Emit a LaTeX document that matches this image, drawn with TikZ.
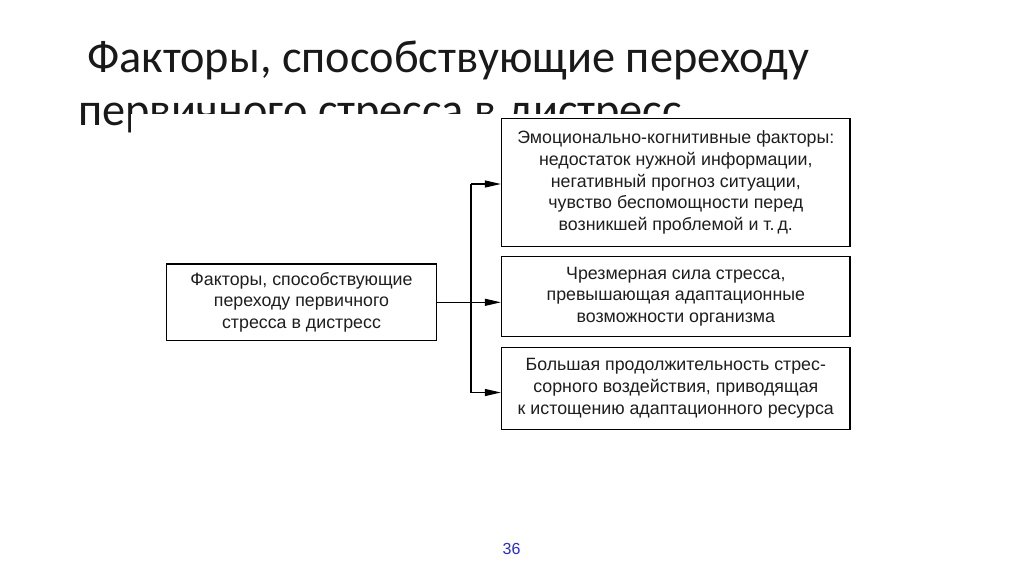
\documentclass[tikz,border=0pt]{standalone}
\usepackage{fontspec}
\setmainfont{Liberation Sans}
\newfontfamily\titlefont{Carlito}
\newfontfamily\boxfont{Liberation Sans}
\usetikzlibrary{arrows.meta,calc}
\definecolor{txtgray}{RGB}{30,30,30}
\definecolor{pagenum}{RGB}{40,40,220}
\begin{document}
\begin{tikzpicture}[x=1pt,y=-1pt,
  titletext/.style={anchor=base west,inner sep=0pt,font=\titlefont\fontsize{46.3}{50}\selectfont,text=black!90},
  factbox/.style={draw=black,line width=1.4pt,fill=white,align=center,inner sep=0pt,
    font=\boxfont\fontsize{17.8}{21.7}\selectfont,text=txtgray},
  conn/.style={line width=1.2pt,draw=black},
  arr/.style={conn,-{Triangle[length=16pt,width=7pt]}}
]
\useasboundingbox (0,0) rectangle (1024,574);
\fill[white] (0,0) rectangle (1024,574);
% title
\node[titletext] (t1) at (87,72) {Факторы, способствующие переходу};
\node[titletext] (t2) at (78,125) {первичного стресса в дистресс};
% white cover of the inserted diagram
\fill[white] (131,114) rectangle (880,440);
% boxes
\node[factbox,minimum width=270pt,minimum height=76.5pt] (left) at (301.5,302.3)
  {Факторы, способствующие\\переходу первичного\\стресса в дистресс};
\node[factbox,minimum width=348.5pt,minimum height=128.4pt] (top) at (675.8,182.5)
  {Эмоционально-когнитивные факторы:\\недостаток нужной информации,\\негативный прогноз ситуации,\\чувство беспомощности перед\\возникшей проблемой и т.\,д.};
\node[factbox,minimum width=348.5pt,minimum height=80pt] (mid) at (675.8,296.7)
  {Чрезмерная сила стресса,\\превышающая адаптационные\\возможности организма};
\node[factbox,minimum width=348.5pt,minimum height=82pt] (bot) at (675.8,388.3)
  {Большая продолжительность стрес-\\сорного воздействия, приводящая\\к истощению адаптационного ресурса};
% connectors
\coordinate (bt) at (471,184);
\coordinate (bb) at (471,392.5);
\draw[conn] (bt) -- (bb);
\draw[arr] (left.east) -- (left.east -| mid.west);
\draw[arr] (bt) -- (bt -| top.west);
\draw[arr] (bb) -- (bb -| bot.west);
% page number
\node[inner sep=0pt,text=pagenum,font=\fontsize{16}{18}\selectfont] (pg) at (511.5,549) {36};
\end{tikzpicture}
\end{document}
